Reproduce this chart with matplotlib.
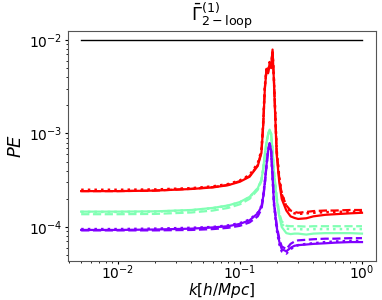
import numpy as np
import matplotlib.pyplot as plt
from matplotlib import cm

# k grid (h/Mpc)
k = [0.005, 0.01, 0.02, 0.04, 0.06, 0.08, 0.1, 0.12, 0.14, 0.15, 0.155, 0.16,
     0.165, 0.17, 0.175, 0.18, 0.185, 0.19, 0.2, 0.21, 0.22, 0.24, 0.26, 0.28,
     0.3, 0.35, 0.4, 0.5, 0.6, 0.8, 1.0]

# red curves
red_solid = [2.42e-4, 2.42e-4, 2.45e-4, 2.55e-4, 2.65e-4, 2.8e-4, 3.05e-4, 3.45e-4, 4.5e-4, 6.2e-4, 1.2e-3, 3.0e-3,
             4.8e-3, 4.4e-3, 5.6e-3, 5.0e-3, 7.9e-3, 3.5e-3, 6.0e-4, 3.0e-4, 2.0e-4, 1.5e-4, 1.3e-4, 1.25e-4,
             1.22e-4, 1.24e-4, 1.3e-4, 1.35e-4, 1.37e-4, 1.4e-4, 1.42e-4]
red_dashed = [2.42e-4, 2.42e-4, 2.45e-4, 2.56e-4, 2.67e-4, 2.82e-4, 3.1e-4, 3.5e-4, 4.6e-4, 6.4e-4, 1.25e-3, 3.1e-3,
              4.9e-3, 4.5e-3, 5.7e-3, 5.1e-3, 7.6e-3, 3.7e-3, 6.5e-4, 3.3e-4, 2.25e-4, 1.7e-4, 1.5e-4, 1.45e-4,
              1.42e-4, 1.45e-4, 1.48e-4, 1.5e-4, 1.5e-4, 1.52e-4, 1.52e-4]
red_dotted = [2.5e-4, 2.5e-4, 2.52e-4, 2.6e-4, 2.72e-4, 2.88e-4, 3.15e-4, 3.6e-4, 4.8e-4, 6.6e-4, 1.3e-3, 3.2e-3,
              4.9e-3, 4.6e-3, 5.8e-3, 5.2e-3, 7.4e-3, 3.8e-3, 6.6e-4, 3.4e-4, 2.3e-4, 1.65e-4, 1.45e-4, 1.4e-4,
              1.38e-4, 1.4e-4, 1.42e-4, 1.44e-4, 1.45e-4, 1.46e-4, 1.46e-4]

# green curves
green_solid = [1.46e-4, 1.46e-4, 1.47e-4, 1.52e-4, 1.6e-4, 1.7e-4, 1.85e-4, 2.1e-4, 2.6e-4, 3.2e-4, 4.2e-4, 6.0e-4,
               8.0e-4, 9.8e-4, 1.1e-3, 1.0e-3, 6.5e-4, 3.8e-4, 2.0e-4, 1.3e-4, 1.0e-4, 8.6e-5, 8.4e-5, 8.5e-5,
               8.5e-5, 8.3e-5, 8.5e-5, 8.6e-5, 8.6e-5, 8.6e-5, 8.5e-5]
green_dashed = [1.37e-4, 1.37e-4, 1.38e-4, 1.43e-4, 1.5e-4, 1.6e-4, 1.75e-4, 2.0e-4, 2.5e-4, 3.1e-4, 4.1e-4, 5.9e-4,
                7.9e-4, 9.6e-4, 1.08e-3, 9.8e-4, 6.6e-4, 3.9e-4, 2.1e-4, 1.4e-4, 1.15e-4, 1.03e-4, 1.02e-4, 1.02e-4,
                1.02e-4, 1.01e-4, 1.02e-4, 1.02e-4, 1.02e-4, 1.02e-4, 1.02e-4]
green_dotted = [1.45e-4, 1.45e-4, 1.46e-4, 1.51e-4, 1.59e-4, 1.69e-4, 1.84e-4, 2.08e-4, 2.58e-4, 3.15e-4, 4.15e-4, 5.9e-4,
                7.9e-4, 9.7e-4, 1.09e-3, 9.9e-4, 6.5e-4, 3.8e-4, 2.0e-4, 1.35e-4, 1.08e-4, 9.6e-5, 9.5e-5, 9.5e-5,
                9.5e-5, 9.4e-5, 9.5e-5, 9.5e-5, 9.5e-5, 9.5e-5, 9.5e-5]

# purple curves
purple_solid = [9.3e-5, 9.3e-5, 9.4e-5, 9.6e-5, 9.9e-5, 1.02e-4, 1.08e-4, 1.18e-4, 1.4e-4, 1.65e-4, 2.1e-4, 3.0e-4,
                4.6e-4, 6.5e-4, 7.9e-4, 6.5e-4, 3.5e-4, 1.8e-4, 1.0e-4, 7.0e-5, 5.8e-5, 5.5e-5, 6.0e-5, 6.3e-5,
                6.4e-5, 6.5e-5, 6.6e-5, 6.7e-5, 6.8e-5, 6.9e-5, 6.9e-5]
purple_dashed = [9.2e-5, 9.2e-5, 9.2e-5, 9.3e-5, 9.5e-5, 9.8e-5, 1.03e-4, 1.12e-4, 1.3e-4, 1.55e-4, 2.0e-4, 2.9e-4,
                 4.5e-4, 6.4e-4, 7.8e-4, 6.6e-4, 3.6e-4, 1.9e-4, 1.05e-4, 7.5e-5, 6.2e-5, 5.8e-5, 6.6e-5, 7.0e-5,
                 7.2e-5, 7.3e-5, 7.4e-5, 7.5e-5, 7.5e-5, 7.6e-5, 7.6e-5]
purple_dotted = [9.5e-5, 9.5e-5, 9.6e-5, 9.8e-5, 1.0e-4, 1.04e-4, 1.1e-4, 1.2e-4, 1.42e-4, 1.68e-4, 2.15e-4, 3.05e-4,
                 4.6e-4, 6.5e-4, 7.8e-4, 6.4e-4, 3.4e-4, 1.75e-4, 9.5e-5, 6.6e-5, 5.5e-5, 5.2e-5, 5.8e-5, 6.2e-5,
                 6.4e-5, 6.6e-5, 6.7e-5, 6.9e-5, 7.0e-5, 7.1e-5, 7.1e-5]

ref_k = [0.005, 1.0]
ref_pe = [1e-2, 1e-2]

colors = cm.rainbow([0.0, 0.5, 1.0])

fig = plt.figure(figsize=(3.82, 3.0), dpi=100)
ax = fig.add_axes([0.178, 0.13, 0.806, 0.767])

ax.plot(ref_k, ref_pe, color='black', lw=1.0)

groups = [
    (colors[2], red_solid, red_dashed, red_dotted),
    (colors[1], green_solid, green_dashed, green_dotted),
    (colors[0], purple_solid, purple_dashed, purple_dotted),
]
for c, s, d, o in groups:
    ax.plot(k, s, color=c, lw=1.6, ls='-')
    ax.plot(k, d, color=c, lw=1.6, ls='--')
    ax.plot(k, o, color=c, lw=1.8, ls=':')

ax.set_xscale('log')
ax.set_yscale('log')
ax.set_xlim(0.0039, 1.30)
ax.set_ylim(4.33e-5, 1.25e-2)
ax.tick_params(labelsize=10, length=2.5, pad=1.5)
ax.tick_params(axis='x', pad=-0.5)
ax.tick_params(which='minor', length=1.2)
for sp in ax.spines.values():
    sp.set_edgecolor('#555555')

ax.set_title(r'$\bar{\Gamma}^{(1)}_{2-\mathrm{loop}}$', fontsize=13, pad=1)
ax.set_xlabel(r'$k[h/Mpc]$', fontsize=11, labelpad=-1)
ax.set_ylabel(r'$PE$', fontsize=13, labelpad=3)

fig.savefig('out.png', dpi=100)
